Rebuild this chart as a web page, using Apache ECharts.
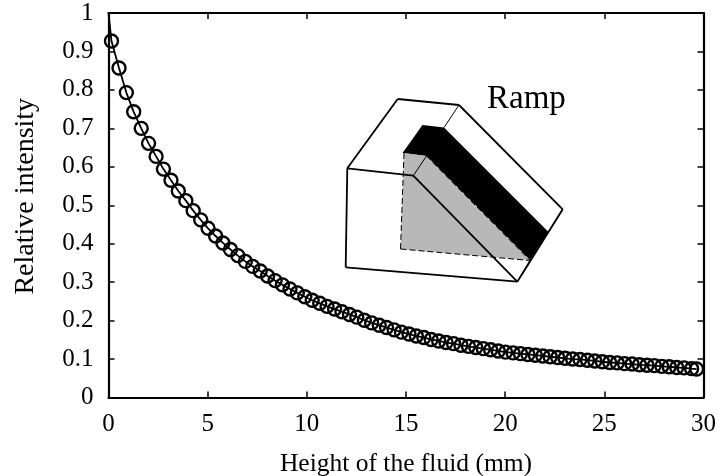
<!DOCTYPE html>
<html><head><meta charset="utf-8">
<style>html,body{margin:0;padding:0;background:#fff}#c{width:722px;height:476px}</style>
<script src="https://cdn.jsdelivr.net/npm/echarts@6/dist/echarts.min.js"></script>
</head><body><div id="c"></div>
<script>
const heights=[0.15,0.53,0.9,1.27,1.65,2.02,2.4,2.77,3.15,3.52,3.9,4.27,4.65,5.02,5.4,5.77,6.15,6.52,6.9,7.27,7.65,8.02,8.4,8.77,9.15,9.52,9.9,10.27,10.65,11.02,11.4,11.77,12.15,12.52,12.9,13.27,13.65,14.02,14.4,14.77,15.15,15.52,15.9,16.27,16.65,17.02,17.4,17.77,18.15,18.52,18.9,19.27,19.65,20.02,20.4,20.77,21.15,21.52,21.9,22.27,22.65,23.02,23.4,23.77,24.15,24.52,24.9,25.27,25.65,26.02,26.4,26.77,27.15,27.52,27.9,28.27,28.65,29.02,29.4,29.65];
const intensity=[0.927,0.857,0.793,0.743,0.700,0.661,0.627,0.594,0.565,0.537,0.512,0.486,0.462,0.440,0.420,0.402,0.385,0.369,0.354,0.341,0.329,0.316,0.304,0.293,0.282,0.272,0.262,0.253,0.245,0.237,0.230,0.223,0.216,0.209,0.201,0.194,0.188,0.182,0.176,0.170,0.165,0.160,0.156,0.151,0.147,0.143,0.140,0.136,0.133,0.130,0.127,0.124,0.121,0.118,0.116,0.114,0.112,0.110,0.108,0.106,0.104,0.102,0.100,0.099,0.097,0.095,0.093,0.091,0.090,0.088,0.087,0.085,0.084,0.083,0.081,0.080,0.078,0.077,0.075,0.074];
const curveStart=[0,1];
const xTitle='Height of the fluid (mm)', yTitle='Relative intensity', insetLabel='Ramp';
const font='"Liberation Serif"';
const chart=echarts.init(document.getElementById('c'),null,{renderer:'canvas'});
const pts=heights.map((h,i)=>[h,intensity[i]]);
const axisLine=()=>({show:true,onZero:false,lineStyle:{color:'#000',width:2.2}});
const tick=()=>({show:true,alignWithLabel:true,interval:0,inside:true,length:6,lineStyle:{color:'#000',width:1.5,opacity:1,type:'solid'}});
const label={color:'#000',fontFamily:font,fontSize:25};
const L=(a,b,w,dash)=>({type:'line',shape:{x1:a[0],y1:a[1],x2:b[0],y2:b[1]},style:{stroke:'#000',lineWidth:w,lineDash:dash||null},z:10});
const P=(p,fill)=>({type:'polygon',shape:{points:p},style:{fill:fill},z:9});
chart.setOption({
 animation:false,
 backgroundColor:'#fff',
 grid:{left:108.5,right:18.5,top:13,bottom:78.5,containLabel:false,outerBoundsMode:'none'},
 xAxis:[
  {type:'value',min:0,max:30,interval:5,axisLine:axisLine(),axisTick:tick(),splitLine:{show:false},axisLabel:{...label,margin:14,hideOverlap:false,showMinLabel:true,showMaxLabel:true},
   name:xTitle,nameLocation:'middle',nameGap:54,nameMoveOverlap:false,nameTextStyle:{color:'#000',fontFamily:font,fontSize:25.5}},
  {type:'value',position:'top',show:true,min:0,max:30,interval:5,axisLine:axisLine(),axisTick:tick(),splitLine:{show:false},axisLabel:{show:false}}
 ],
 yAxis:[
  {type:'value',min:0,max:1,interval:0.1,axisLine:axisLine(),axisTick:tick(),splitLine:{show:false},axisLabel:{...label,margin:15,hideOverlap:false,showMinLabel:true,showMaxLabel:true},
   name:yTitle,nameLocation:'middle',nameGap:69,nameMoveOverlap:false,nameTextStyle:{color:'#000',fontFamily:font,fontSize:28,padding:[0,0,0,18]}},
  {type:'value',position:'right',show:true,min:0,max:1,interval:0.1,axisLine:axisLine(),axisTick:tick(),splitLine:{show:false},axisLabel:{show:false}}
 ],
 series:[
  {type:'line',data:[curveStart,...pts],showSymbol:false,symbol:'none',lineStyle:{color:'#000',width:1.8},silent:true,z:2},
  {type:'scatter',data:pts,symbol:'circle',symbolSize:13,itemStyle:{color:'rgba(0,0,0,0)',borderColor:'#000',borderWidth:2.4,opacity:1},clip:false,z:3},
  {type:'line',xAxisIndex:1,yAxisIndex:1,data:[],showSymbol:false}
 ],
 graphic:{elements:[
  P([[402.5,153],[422.5,125],[444,127.5],[548.5,232],[530,260],[426.5,156]],'#000'),
  P([[404,153],[426.5,156],[530,260.5],[400.5,249]],'#b8b8b8'),
  L([347.3,168.3],[397.7,99],1.8),L([397.7,99],[459,105],1.8),L([459,105],[562.7,209.3],1.8),
  L([562.7,209.3],[517.3,281.7],1.8),L([517.3,281.7],[345.7,267.3],1.8),L([345.7,267.3],[347.3,168.3],1.8),
  L([347.3,168.3],[413.3,175.7],1.8),L([413.3,175.7],[517.3,281.7],1.8),
  L([459,105],[444,127.5],1),L([562.7,209.3],[548.5,232],1),
  L([426.5,156],[413.3,175.7],1),L([530,260.5],[517.3,281.7],1),
  L([404,153],[400.5,249],1,[6,3]),L([400.5,249],[530,260.5],1,[6,3]),L([426.5,156],[530,260.5],1,[6,3]),
  {type:'text',x:487,y:83,style:{text:insetLabel,fill:'#000',font:'33px "Liberation Serif"'},z:11}
 ]}
});
</script></body></html>
